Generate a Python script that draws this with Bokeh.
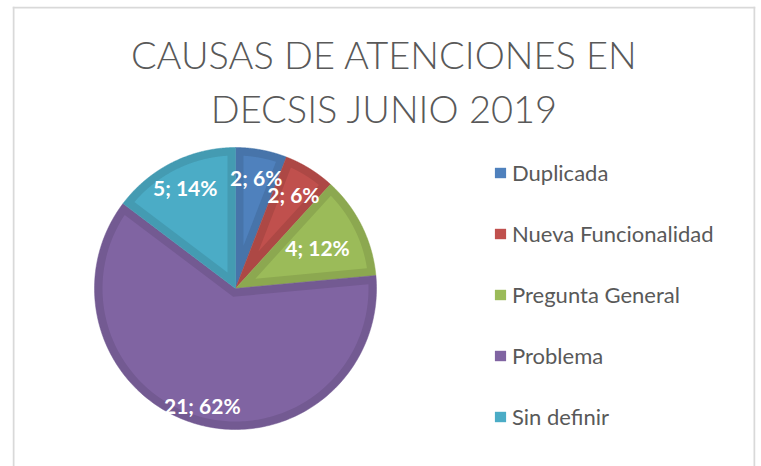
import numpy as np
from bokeh.plotting import figure
from bokeh.models import Range1d, ColumnDataSource, Legend, LegendItem, Span
from bokeh.core.properties import value
from bokeh.embed import file_html
from bokeh.resources import INLINE

# ---- data ----
categories = ["Duplicada", "Nueva Funcionalidad", "Pregunta General", "Problema", "Sin definir"]
counts = [2, 2, 4, 21, 5]
percent_labels = ["6%", "6%", "12%", "62%", "14%"]
title_lines = ["CAUSAS DE ATENCIONES EN", "DECSIS JUNIO 2019"]

# ---- styles / layout ----
light = ["#4F81BD", "#C0504D", "#9BBB59", "#8064A2", "#4BACC6"]
dark = ["#4774AA", "#AD4845", "#8CA850", "#735A92", "#449BB2"]
label_radius_frac = [0.80, 0.78, 0.65, 0.86, 0.80]

W, H = 761, 466
BL, BT, BR = 12, 6, 6
cx, cy, r, band = 235, 178, 141, 8

p = figure(width=W, height=H, output_backend="svg", toolbar_location=None,
           x_range=Range1d(BL, W - BR), y_range=Range1d(0, H - BT),
           min_border_left=BL, min_border_top=BT, min_border_right=BR, min_border_bottom=0)
p.axis.visible = False
p.grid.visible = False
p.outline_line_color = None
p.background_fill_color = "white"
p.border_fill_color = "white"

# chart border (left, right, top)
for loc, dim in [(BL + 1, "height"), (W - BR - 1, "height"), (H - BT - 1, "width")]:
    p.add_layout(Span(location=loc, dimension=dim, line_color="#D9D9D9", line_width=2))

total = float(sum(counts))
cum = np.concatenate([[0], np.cumsum(counts)]) / total
a_start = np.pi / 2 - cum[:-1] * 2 * np.pi
a_end = np.pi / 2 - cum[1:] * 2 * np.pi

outer_xs, outer_ys, inner_xs, inner_ys = [], [], [], []
lab_x, lab_y, lab_t = [], [], []
for i in range(len(counts)):
    a0, a1 = a_start[i], a_end[i]
    t = np.linspace(a0, a1, 200)
    outer_xs.append(list(np.concatenate([[cx], cx + r * np.cos(t)])))
    outer_ys.append(list(np.concatenate([[cy], cy + r * np.sin(t)])))
    theta = a0 - a1
    m = (a0 + a1) / 2
    s = band / np.sin(theta / 2)
    px, py = cx + s * np.cos(m), cy + s * np.sin(m)
    rr = r - band
    dlt = np.arcsin(band / rr)
    t2 = np.linspace(a0 - dlt, a1 + dlt, 200)
    inner_xs.append(list(np.concatenate([[px], cx + rr * np.cos(t2)])))
    inner_ys.append(list(np.concatenate([[py], cy + rr * np.sin(t2)])))
    lr = label_radius_frac[i] * r
    lab_x.append(cx + lr * np.cos(m))
    lab_y.append(cy + lr * np.sin(m))
    lab_t.append(f"{counts[i]}; {percent_labels[i]}")

p.patches(xs=outer_xs, ys=outer_ys, fill_color=dark, line_color=dark, line_width=0.5)
inner = p.patches(xs="xs", ys="ys", fill_color="color", line_color=None,
                  source=ColumnDataSource(dict(xs=inner_xs, ys=inner_ys, color=light)))

p.text(x=lab_x, y=lab_y, text=lab_t, text_color="white", text_font=value("Lato"),
       text_font_style="bold", text_font_size="21px", text_align="center",
       text_baseline="middle")

p.text(x=[384, 384], y=[413, 359], text=title_lines, text_color="#595959",
       text_font=value("Lato Light, Lato"), text_font_size="38px", text_align="center",
       text_baseline="alphabetic")

legend = Legend(items=[LegendItem(label=c, renderers=[inner], index=i) for i, c in enumerate(categories)],
                location=(481, 36), orientation="vertical")
legend.glyph_width = 14
legend.glyph_height = 13
legend.label_height = 20
legend.spacing = 34
legend.label_standoff = 5
legend.padding = 0
legend.margin = 0
legend.border_line_color = None
legend.background_fill_alpha = 0
legend.label_text_font = "Lato"
legend.label_text_font_size = "22px"
legend.label_text_color = "#595959"
p.add_layout(legend, "center")

open("out.html", "w").write(file_html(p, INLINE))
